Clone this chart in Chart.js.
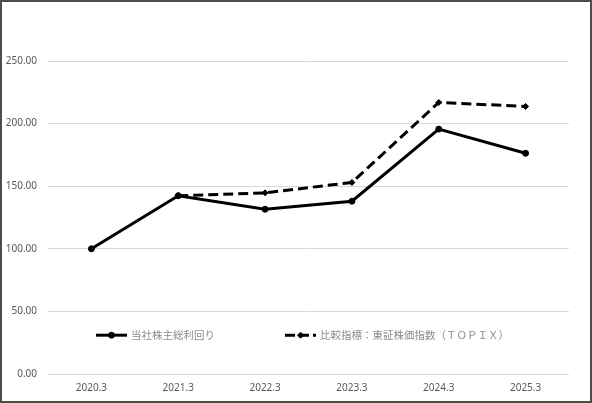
<!DOCTYPE html>
<html>
<head>
<meta charset="utf-8">
<script src="https://cdn.jsdelivr.net/npm/chart.js@4"></script>
<style>
html,body{margin:0;padding:0;background:#fff;}
#wrap{position:relative;width:592px;height:403px;}
</style>
</head>
<body>
<div id="wrap"><canvas id="c" width="592" height="403"></canvas></div>
<script>
const categories = ["2020.3","2021.3","2022.3","2023.3","2024.3","2025.3"];
const companyTSR = [100.0, 142.4, 131.6, 138.0, 195.6, 176.3];
const topixIndex = [null, 142.4, 144.7, 153.0, 216.9, 213.7];
const seriesNames = ["当社株主総利回り","比較指標：東証株価指数（ＴＯＰＩＸ）"];
const yTicks = [0, 50, 100, 150, 200, 250];

const legendPlugin = {
  id: 'inLegend',
  afterDatasetsDraw(chart) {
    const ctx = chart.ctx;
    const y = chart.scales.y.getPixelForValue(31);
    const items = [
      {x: 96, dash: [], style: 'circle', name: seriesNames[0]},
      {x: 285, dash: [10, 4], style: 'rectRot', name: seriesNames[1]}
    ];
    ctx.save();
    items.forEach(it => {
      ctx.strokeStyle = '#000';
      ctx.lineWidth = 3;
      ctx.setLineDash(it.dash);
      ctx.beginPath();
      ctx.moveTo(it.x, y);
      ctx.lineTo(it.x + 31, y);
      ctx.stroke();
      ctx.setLineDash([]);
      ctx.fillStyle = '#000';
      ctx.lineWidth = 1;
      Chart.helpers.drawPoint(ctx, {pointStyle: it.style, radius: 3, borderWidth: 1}, it.x + 15.5, y);
      ctx.fillStyle = '#8c8c8c';
      ctx.font = '10.5px "Noto Sans CJK JP"';
      ctx.textBaseline = 'middle';
      ctx.textAlign = 'left';
      ctx.fillText(it.name, it.x + 35, y);
    });
    ctx.restore();
  }
};
const borderPlugin = {
  id: 'frame',
  afterDraw(chart) {
    const ctx = chart.ctx;
    ctx.save();
    ctx.strokeStyle = '#4d4d4d';
    ctx.lineWidth = 2;
    ctx.strokeRect(1, 1, chart.width - 2, chart.height - 2);
    ctx.restore();
  }
};

new Chart(document.getElementById('c'), {
  type: 'line',
  data: {
    labels: categories,
    datasets: [
      {
        label: seriesNames[0], data: companyTSR,
        borderColor: '#000', backgroundColor: '#000', borderWidth: 3,
        pointStyle: 'circle', pointRadius: 3, pointBorderWidth: 1,
        pointBackgroundColor: '#000', pointBorderColor: '#000',
        tension: 0, spanGaps: false
      },
      {
        label: seriesNames[1], data: topixIndex,
        borderColor: '#000', backgroundColor: '#000', borderWidth: 3,
        borderDash: [10, 5],
        pointStyle: 'rectRot', pointRadius: 3, pointBorderWidth: 1,
        pointBackgroundColor: '#000', pointBorderColor: '#000',
        tension: 0
      }
    ]
  },
  options: {
    responsive: false,
    animation: false,
    devicePixelRatio: 1,
    layout: {padding: {left: 0, right: 23, top: 61, bottom: 1}},
    plugins: {legend: {display: false}, tooltip: {enabled: false}},
    scales: {
      x: {
        offset: true,
        grid: {display: false, drawTicks: false},
        border: {display: false},
        ticks: {color: '#595959', font: {family: 'Noto Sans', size: 10}, padding: 8, maxRotation: 0}
      },
      y: {
        min: 0, max: 250,
        afterBuildTicks(axis) { axis.ticks = yTicks.map(v => ({value: v})); },
        afterFit(axis) { axis.width = 48; },
        grid: {color: '#d9d9d9', lineWidth: 1, drawTicks: false},
        border: {display: false},
        ticks: {
          color: '#595959', font: {family: 'Noto Sans', size: 10}, padding: 11,
          callback: v => Number(v).toFixed(2)
        }
      }
    }
  },
  plugins: [legendPlugin, borderPlugin]
});
</script>
</body>
</html>
